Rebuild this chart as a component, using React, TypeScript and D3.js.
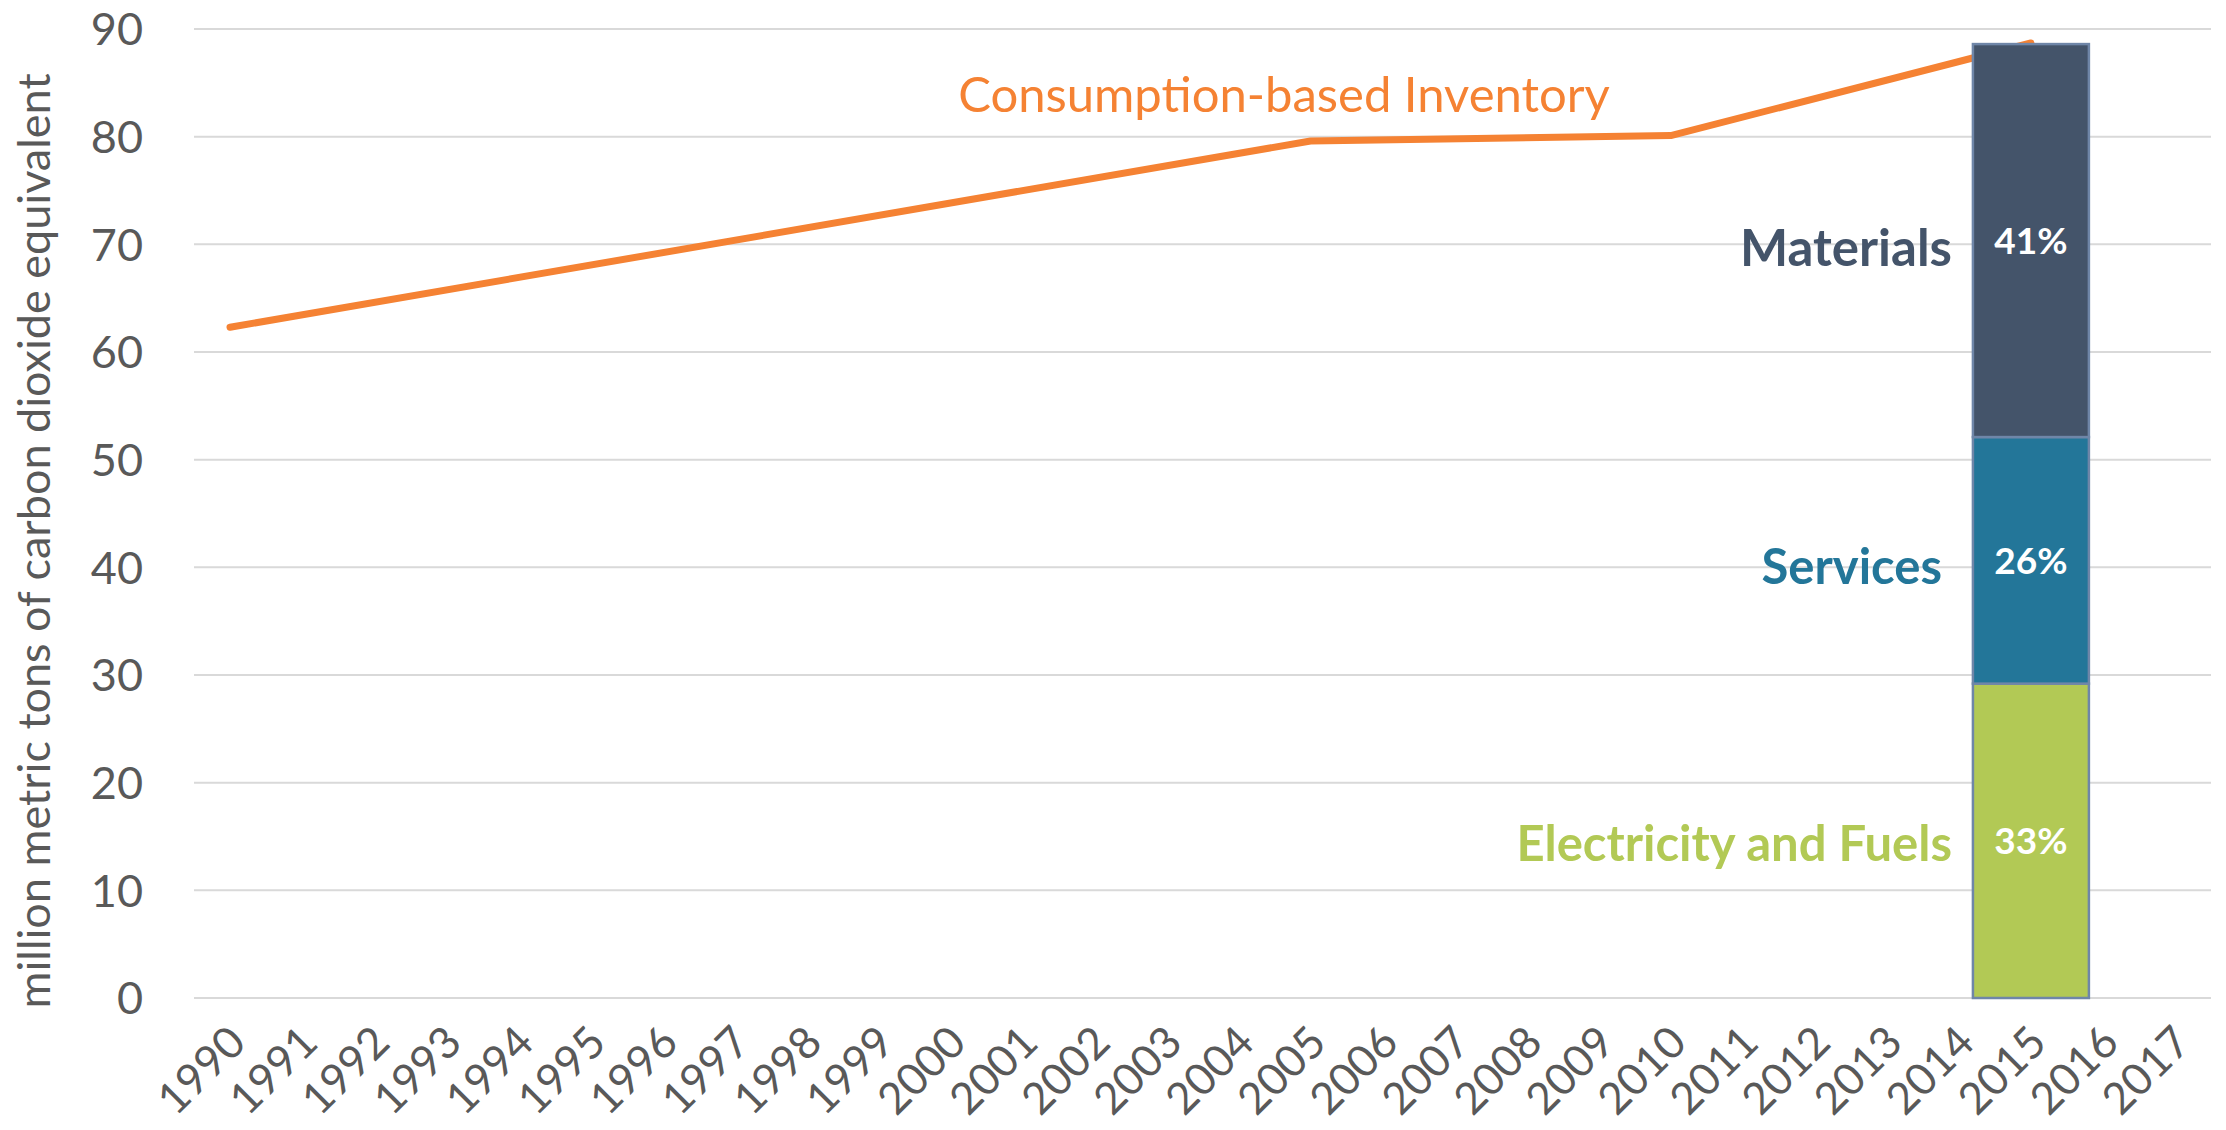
import * as React from "react";
import * as d3 from "d3";

const years = d3.range(1990, 2018).map(String);
const yTicks = [0, 10, 20, 30, 40, 50, 60, 70, 80, 90];

// consumption-based inventory line (only the years that carry a point)
const lineYears = ["1990", "2005", "2010", "2015"];
const lineValues = [62.3, 79.6, 80.1, 88.7];

// stacked 2015 bar
const barYear = "2015";
const segNames = ["Electricity and Fuels", "Services", "Materials"];
const segValues = [29.2, 22.9, 36.5];
const segShares = ["33%", "26%", "41%"];
const segColors = ["#b2c955", "#237699", "#44546a"];

const W = 2226;
const H = 1130;
const FONT = "Lato, 'Open Sans', sans-serif";

export default function App() {
    const x = d3.scaleBand().domain(years).range([194, 2211]).paddingInner(0).paddingOuter(0);
    const y = d3.scaleLinear().domain([0, 90]).range([998, 29]);
    const cx = (yr: string) => (x(yr) as number) + x.bandwidth() / 2;

    const line = d3.line<number>()
        .x((d, i) => cx(lineYears[i]))
        .y((d) => y(d));

    const barW = x.bandwidth() * 1.61;
    const barX = cx(barYear) - barW / 2;
    let acc = 0;
    const segs = segValues.map((v, i) => {
        const s = { name: segNames[i], y0: acc, y1: acc + v, color: segColors[i], share: segShares[i] };
        acc += v;
        return s;
    });

    return (
        <div style={{ position: "absolute", left: 0, top: 0 }}>
            <svg width={W} height={H} style={{ display: "block", background: "#fff", fontFamily: FONT }}>
                {/* gridlines */}
                {yTicks.map((t) => (
                    <line key={t} x1={194} x2={2211} y1={y(t)} y2={y(t)} stroke="#d9d9d9" strokeWidth={2} />
                ))}
                {/* y tick labels */}
                {yTicks.map((t) => (
                    <text key={"l" + t} x={143} y={y(t)} dy="0.36em" textAnchor="end" fontSize={45} fill="#595959">
                        {t}
                    </text>
                ))}
                {/* x tick labels */}
                {years.map((yr) => (
                    <text
                        key={yr}
                        transform={`translate(${cx(yr) + 18},${1045}) rotate(-45)`}
                        textAnchor="end"
                        fontSize={44}
                        fill="#595959"
                    >
                        {yr}
                    </text>
                ))}
                {/* y axis title */}
                <text
                    transform={`translate(34,541) rotate(-90)`}
                    textAnchor="middle"
                    dy="0.36em"
                    fontSize={45}
                    fill="#595959"
                >
                    million metric tons of carbon dioxide equivalent
                </text>

                {/* line */}
                <path d={line(lineValues) || ""} fill="none" stroke="#f58233" strokeWidth={7} strokeLinecap="round" strokeLinejoin="round" />
                <text x={1284} y={94} dy="0.36em" textAnchor="middle" fontSize={49} fill="#f58233">
                    Consumption-based Inventory
                </text>

                {/* stacked bar */}
                {segs.map((s) => (
                    <rect
                        key={s.name}
                        x={barX}
                        y={y(s.y1)}
                        width={barW}
                        height={y(s.y0) - y(s.y1)}
                        fill={s.color}
                        stroke="#6f86a8"
                        strokeWidth={2.5}
                    />
                ))}
                {segs.map((s) => {
                    const my = (y(s.y0) + y(s.y1)) / 2;
                    return (
                        <text key={"p" + s.name} x={cx(barYear)} y={my} dy="0.36em" textAnchor="middle" fontSize={37} fontWeight="bold" fill="#ffffff">
                            {s.share}
                        </text>
                    );
                })}
                <text x={1952} y={248} dy="0.36em" textAnchor="end" fontSize={51} fontWeight="bold" fill={segColors[2]}>
                    {segNames[2]}
                </text>
                <text x={1942} y={566} dy="0.36em" textAnchor="end" fontSize={49} fontWeight="bold" fill={segColors[1]}>
                    {segNames[1]}
                </text>
                <text x={1952} y={843} dy="0.36em" textAnchor="end" fontSize={49} fontWeight="bold" fill={segColors[0]}>
                    {segNames[0]}
                </text>
            </svg>
        </div>
    );
}
